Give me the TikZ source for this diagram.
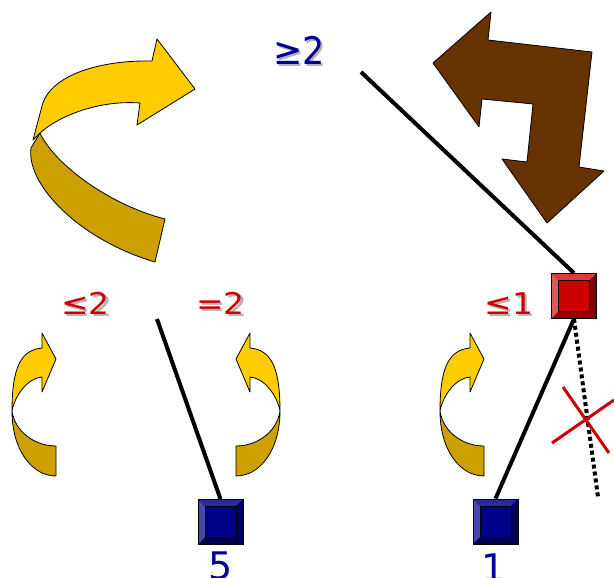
\documentclass[tikz,border=0pt]{standalone}
\usepackage{fontspec}
\setmainfont{DejaVu Sans}
\definecolor{ylight}{HTML}{FFCC00}
\definecolor{ydark}{HTML}{CCA000}
\definecolor{brownarr}{HTML}{663300}
\definecolor{lblred}{HTML}{CC0000}
\definecolor{lblblue}{HTML}{000099}
\definecolor{shad}{HTML}{B4B4B4}
\definecolor{bmain}{HTML}{000088}
\definecolor{bleft}{HTML}{4848A8}
\definecolor{btop}{HTML}{2A2A9E}
\definecolor{bright}{HTML}{00005A}
\definecolor{bbot}{HTML}{000048}
\definecolor{rmain}{HTML}{CC0000}
\definecolor{rleft}{HTML}{E05A5A}
\definecolor{rtop}{HTML}{DD3A3A}
\definecolor{rright}{HTML}{7A0000}
\definecolor{rbot}{HTML}{990000}
\newcommand{\shtext}[1]{\makebox[0pt][l]{\hspace*{2pt}\raisebox{-2pt}{\textcolor{shad}{#1}}}#1}
\tikzset{
  bevelsq/.style n args={5}{rectangle, draw=black, line width=0.8pt, minimum size=45pt, inner sep=0pt, fill=#1,
    path picture={
      \fill[#2] (path picture bounding box.south west) -- (path picture bounding box.north west) -- ([shift={(7pt,-7pt)}]path picture bounding box.north west) -- ([shift={(7pt,7pt)}]path picture bounding box.south west) -- cycle;
      \fill[#3] (path picture bounding box.north west) -- (path picture bounding box.north east) -- ([shift={(-7pt,-7pt)}]path picture bounding box.north east) -- ([shift={(7pt,-7pt)}]path picture bounding box.north west) -- cycle;
      \fill[#4] (path picture bounding box.north east) -- (path picture bounding box.south east) -- ([shift={(-7pt,7pt)}]path picture bounding box.south east) -- ([shift={(-7pt,-7pt)}]path picture bounding box.north east) -- cycle;
      \fill[#5] (path picture bounding box.south east) -- (path picture bounding box.south west) -- ([shift={(7pt,7pt)}]path picture bounding box.south west) -- ([shift={(-7pt,7pt)}]path picture bounding box.south east) -- cycle;
      \draw[line width=0.6pt, black] ([shift={(7pt,-7pt)}]path picture bounding box.north west) rectangle ([shift={(-7pt,7pt)}]path picture bounding box.south east);
    }},
  arrline/.style={draw=black, line width=0.8pt, line join=round},
  smallarrow/.pic={
    \fill[ydark, arrline] (12,411) .. controls (12,450) and (32,476) .. (56,476) -- (56,446) .. controls (35,446) and (15,432) .. (12,411) -- cycle;
    \fill[ylight, arrline] (56,359) -- (42,333) -- (42,348) .. controls (22,350) and (12,365) .. (12,411) .. controls (15,395) and (28,378) .. (42,377) -- (42,392) -- cycle;
  },
  lbl/.style={inner sep=0pt, anchor=base, font=\fontsize{#1}{#1}\selectfont},
  blk/.style={line width=4pt, black},
}
\begin{document}
\begin{tikzpicture}[x=1pt,y=-1pt]
\useasboundingbox (0,0) rectangle (614,578);
% big yellow arrow
\fill[ydark, arrline] (40,133) -- (31,148) .. controls (26,185) and (80,240) .. (155,262) -- (165,219) .. controls (110,205) and (55,165) .. (40,133) -- cycle;
\fill[ylight, arrline] (195,89) -- (157,39) -- (152,61) .. controls (100,60) and (50,75) .. (42,106) -- (33,140) -- (40,133) .. controls (60,115) and (100,100) .. (140,103) -- (137,125) -- cycle;
% brown arrow
\fill[brownarr, arrline] (433,63) -- (491,12) -- (488,40) -- (592,52) -- (579,167) -- (604,171) -- (547,223) -- (502,159) -- (527,162) -- (533,104) -- (482,99) -- (479,127) -- cycle;
% small arrows
\pic (sa1) at (0,0) {smallarrow};
\fill[ydark, arrline] (280,411) .. controls (280,450) and (260,476) .. (236,476) -- (236,446) .. controls (257,446) and (277,432) .. (280,411) -- cycle;
\fill[ylight, arrline] (236,359) -- (250,333) -- (250,348) .. controls (270,350) and (280,365) .. (280,411) .. controls (277,395) and (264,378) .. (250,377) -- (250,392) -- cycle;
\pic (sa3) at (428,0) {smallarrow};
% squares
\node[bevelsq={bmain}{bleft}{btop}{bright}{bbot}] (sq5) at (220.5,522) {};
\node[bevelsq={bmain}{bleft}{btop}{bright}{bbot}] (sq1) at (495.5,521.5) {};
\node[bevelsq={rmain}{rleft}{rtop}{rright}{rbot}] (sqr) at (574,296) {};
% lines
\coordinate (t1) at (361,72);
\coordinate (t2) at (157,319);
\coordinate (t3) at (598,497);
\draw[blk] (t1) -- (sqr.north);
\draw[blk] (t2) -- (sq5.north);
\draw[blk] (sqr.south) -- (sq1.north);
\draw[line width=4pt, dash pattern=on 4pt off 3pt] (sqr.south) -- (t3);
% red cross
\coordinate (x1) at (563,387);
\coordinate (x2) at (609,453);
\coordinate (x3) at (552,443);
\coordinate (x4) at (614,400);
\draw[lblred, line width=3pt] (x1) -- (x2);
\draw[lblred, line width=3pt] (x3) -- (x4);
% labels
\node[lbl=38, text=lblblue] (geq) at (299,65) {\scalebox{0.92}[1]{\shtext{≥2}}};
\node[lbl=30, text=lblred] (le2) at (85.5,314) {\scalebox{1.1}[1]{\shtext{≤2}}};
\node[lbl=30, text=lblred] (eq2) at (220.5,314) {\scalebox{1.1}[1]{\shtext{=2}}};
\node[lbl=30, text=lblred] (le1) at (509,314) {\scalebox{1.1}[1]{\shtext{≤1}}};
\node[lbl=38, text=lblblue] (n5) at (221,579) {5};
\node[lbl=38, text=lblblue] (n1) at (494,581) {1};
\end{tikzpicture}
\end{document}
